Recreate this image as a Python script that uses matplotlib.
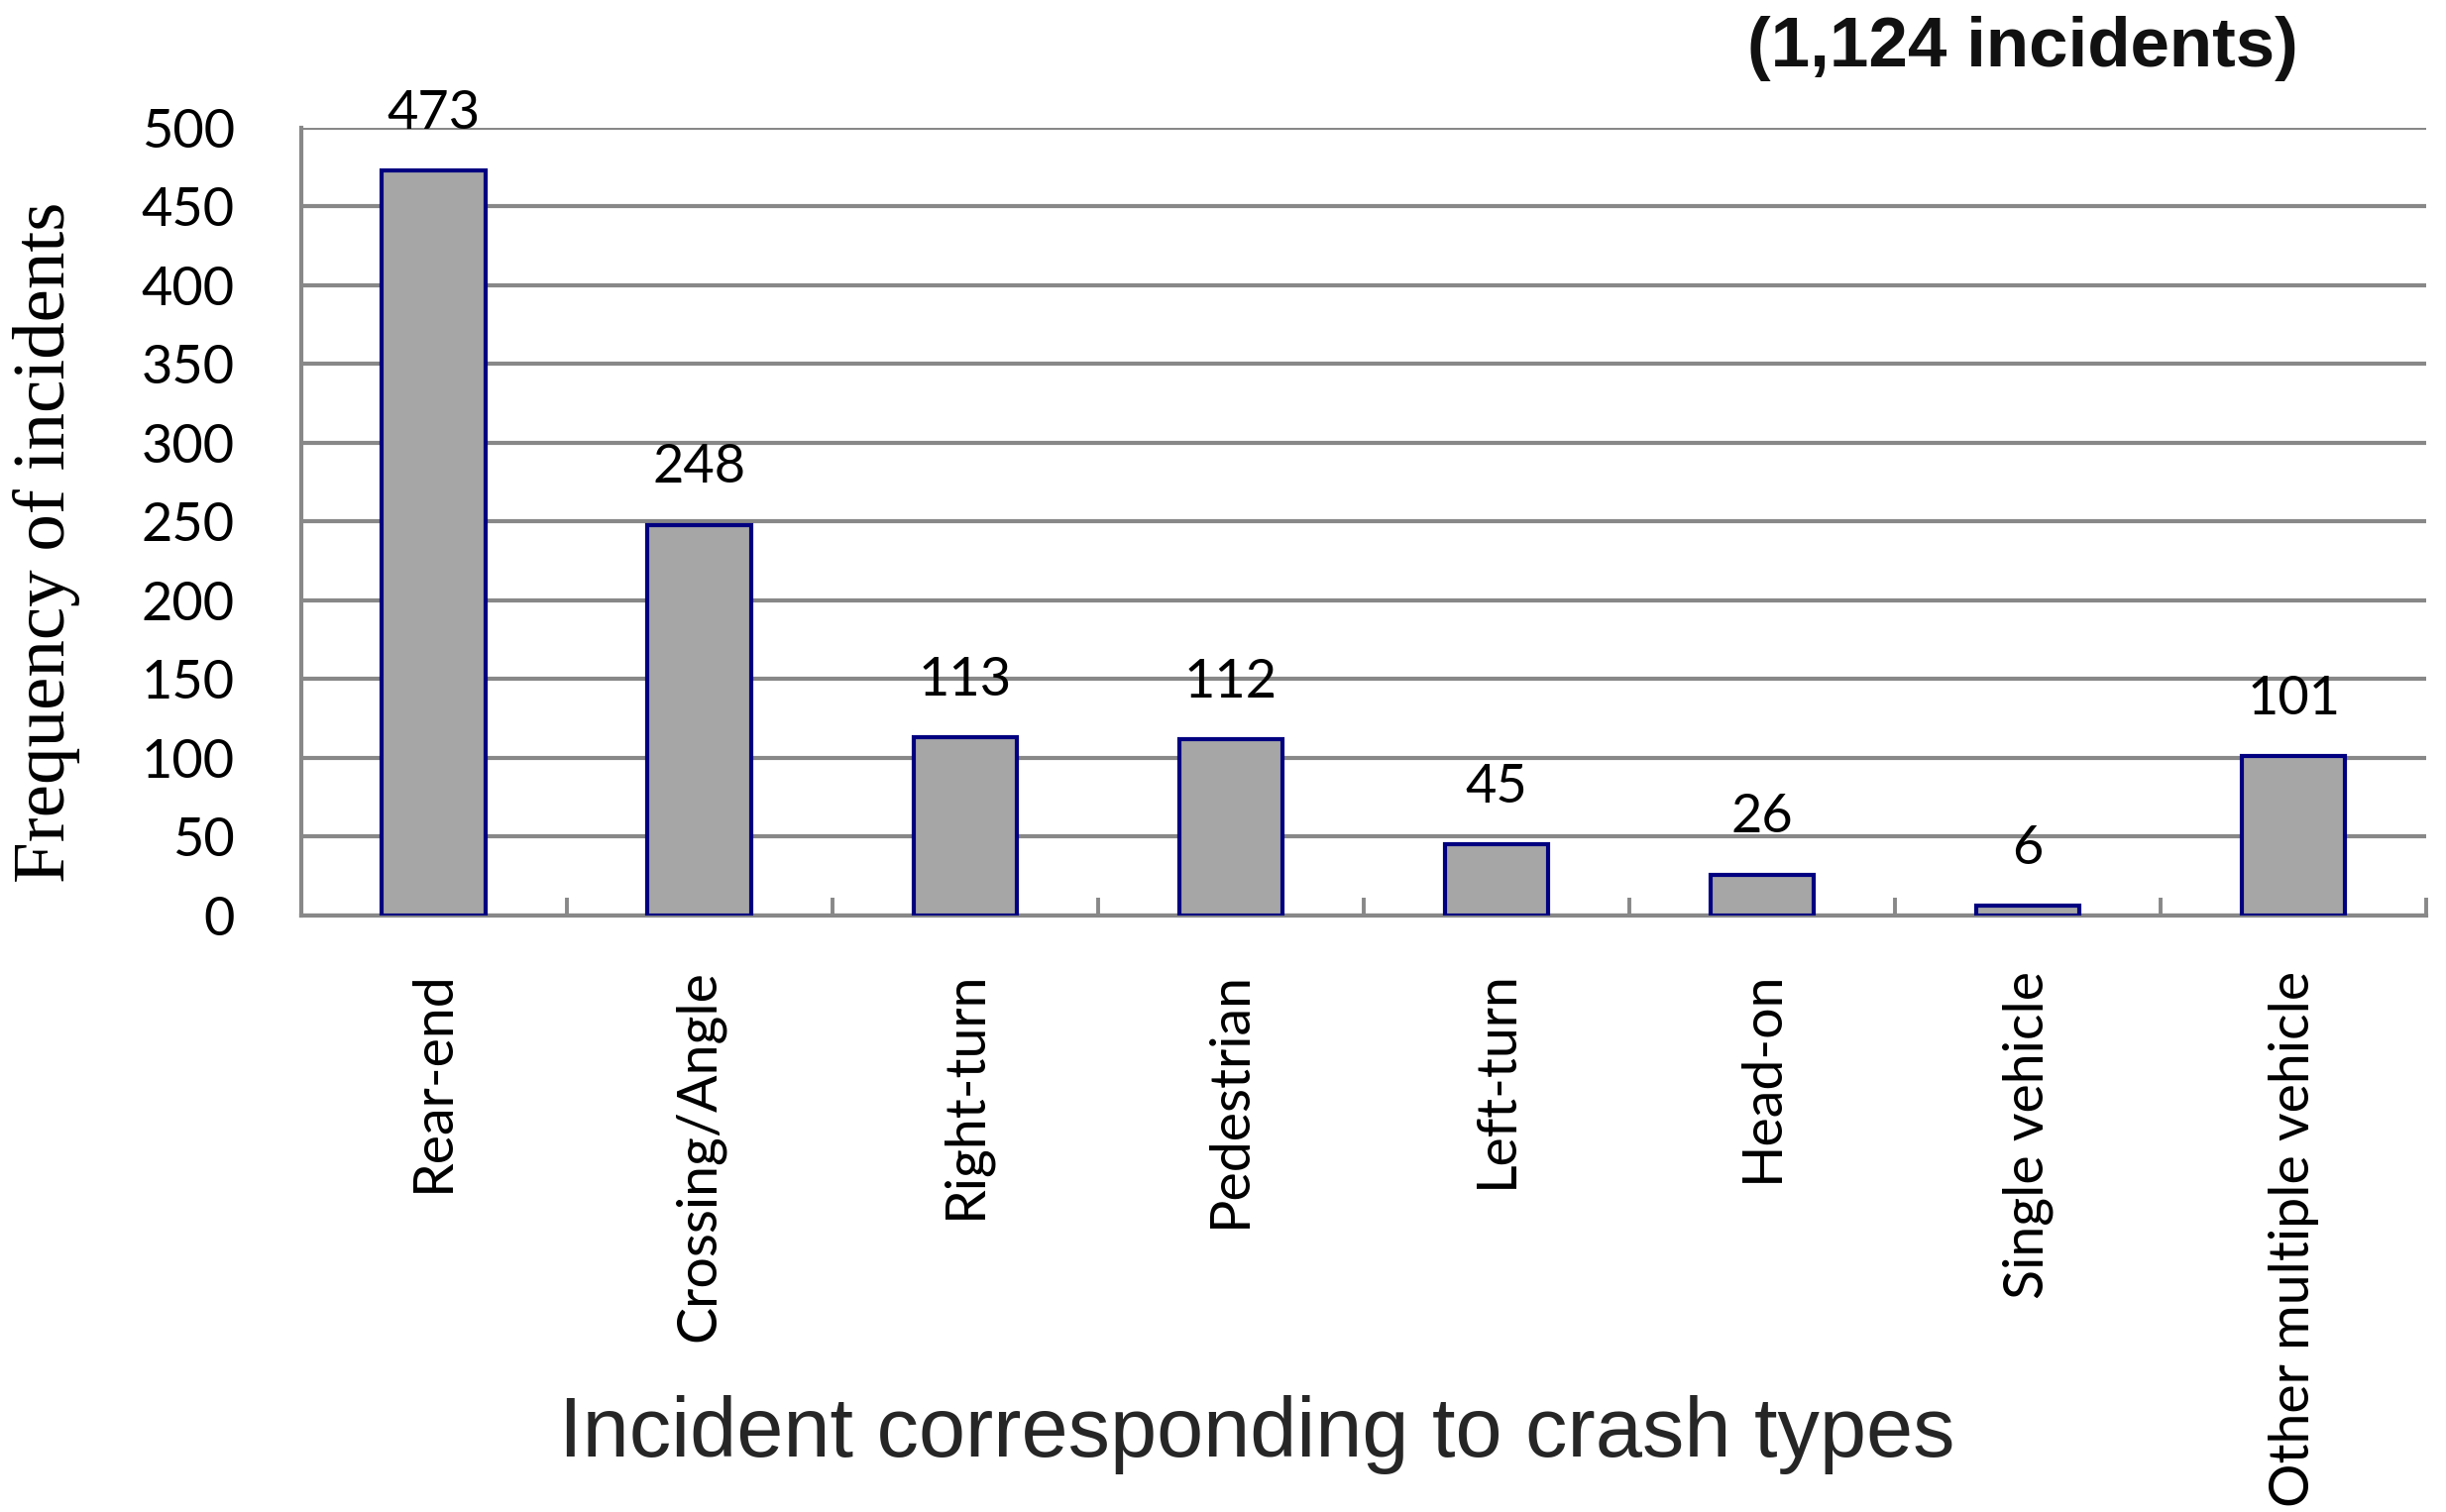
import matplotlib
matplotlib.use('Agg')
import matplotlib.pyplot as plt

# crash type counts
crash_types = ['Rear-end', 'Crossing/Angle', 'Right-turn', 'Pedestrian',
               'Left-turn', 'Head-on', 'Single vehicle', 'Other multiple vehicle']
counts = [473, 248, 113, 112, 45, 26, 6, 101]
y_ticks = [0, 50, 100, 150, 200, 250, 300, 350, 400, 450, 500]
total_label = '(1,124 incidents)'

grid_gray = '#888888'

fig = plt.figure(figsize=(24.68, 15.26), dpi=100)
ax = fig.add_axes([0.123, 0.3945, 0.869, 0.521])

ind = list(range(len(counts)))
bars = ax.bar(ind, counts, 0.39, color='#A6A6A6', edgecolor='#000080',
              linewidth=3, zorder=3)

for b, v in zip(bars, counts):
    ax.annotate(str(v), (b.get_x() + b.get_width() / 2, v),
                xytext=(0, 24), textcoords='offset points',
                ha='center', va='bottom', fontsize=39, family='Lato')

ax.set_xlim(-0.5, len(counts) - 0.5)
ax.set_ylim(0, 500)
ax.set_yticks(y_ticks)
ax.set_yticklabels([str(t) for t in y_ticks], fontsize=39, family='Lato')
ax.tick_params(axis='y', length=0, pad=48)
ax.yaxis.grid(True, color=grid_gray, linewidth=3, zorder=0)
ax.set_axisbelow(True)

# category labels at bar centres, tick marks at the boundaries
ax.set_xticks(ind)
ax.set_xticklabels(crash_types, rotation=90, fontsize=40, family='Lato',
                   va='top', ha='center')
ax.tick_params(axis='x', which='major', length=0, pad=40)
ax.set_xticks([i + 0.5 for i in ind], minor=True)
ax.tick_params(axis='x', which='minor', direction='in', length=13,
               width=2.8, color=grid_gray)

for s in ['top', 'right']:
    ax.spines[s].set_visible(False)
for s in ['left', 'bottom']:
    ax.spines[s].set_color(grid_gray)
    ax.spines[s].set_linewidth(3)

fig.text(0.019, 0.6415, 'Frequency of incidents', rotation=90,
         ha='center', va='center', fontsize=54, family='Liberation Serif')
fig.text(0.514, 0.051, 'Incident corresponding to crash types',
         ha='center', va='center', fontsize=61, family='Liberation Sans',
         color='#262626')
fig.text(0.827, 0.968, total_label, ha='center', va='center', fontsize=51,
         family='Liberation Sans', weight='bold', color='#111111')

plt.savefig('out.png', dpi=100)
